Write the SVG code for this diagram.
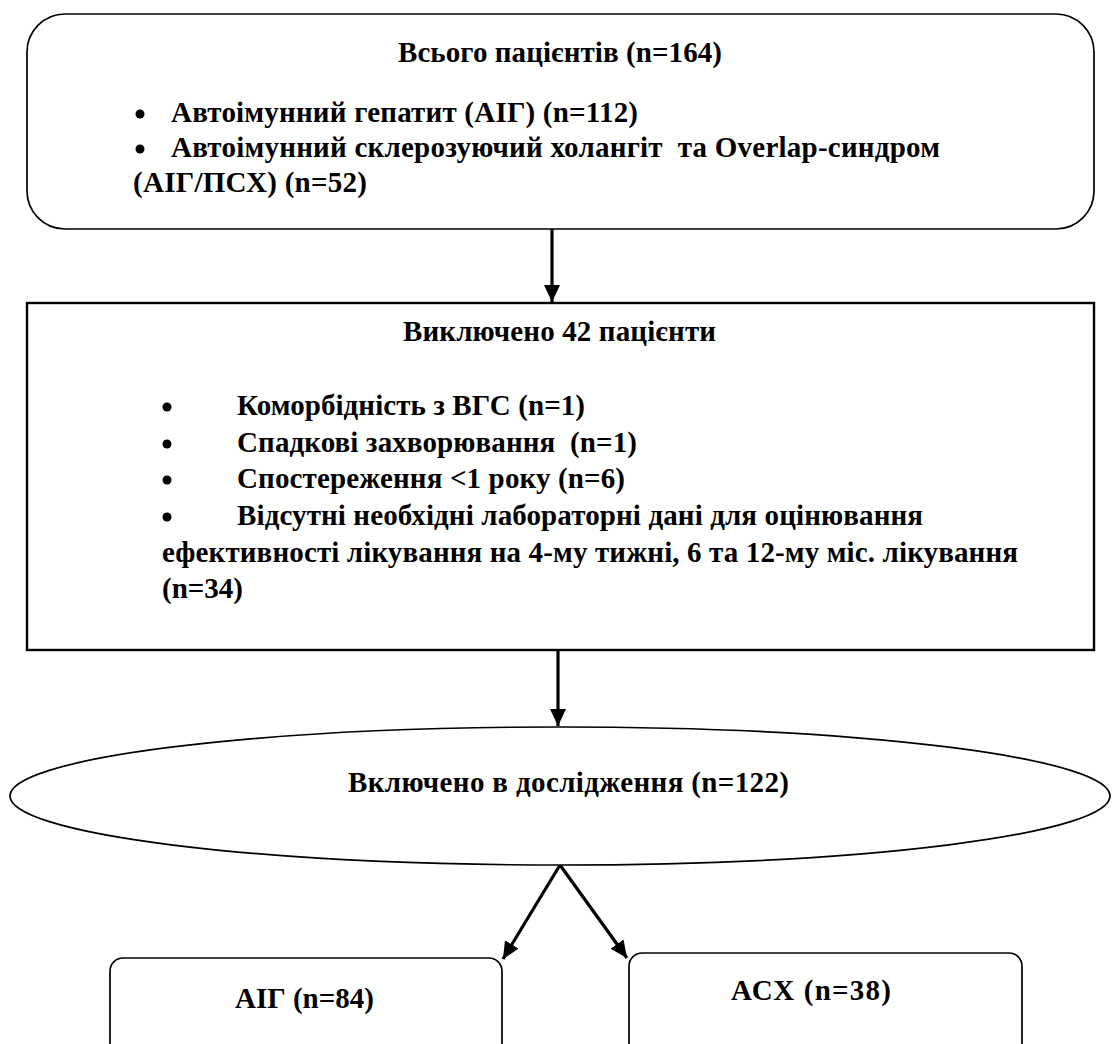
<svg xmlns="http://www.w3.org/2000/svg" width="1115" height="1044" viewBox="0 0 1115 1044">
<defs>
<style>
.t{font-family:"Liberation Serif","Times New Roman",serif;font-weight:bold;font-size:29px;fill:#000;white-space:pre}
.dot{fill:#000}
.box{fill:#fff;stroke:#000;stroke-width:1.7}
.box2{fill:#fff;stroke:#000;stroke-width:2.4}
.conn{stroke:#000;stroke-width:3.2;fill:none}
</style>
<marker id="ah" markerUnits="userSpaceOnUse" markerWidth="17" markerHeight="16" refX="17" refY="8" orient="auto">
<path d="M0,0 L17,8 L0,16 z" fill="#000"/>
</marker>
</defs>
<rect width="1115" height="1044" fill="#fff"/>
<g id="connectors">
<line class="conn" x1="552" y1="229" x2="552" y2="302" marker-end="url(#ah)"/>
<line class="conn" x1="558" y1="650" x2="558" y2="726" marker-end="url(#ah)"/>
<line class="conn" x1="560" y1="865" x2="503" y2="959" marker-end="url(#ah)"/>
<line class="conn" x1="560" y1="865" x2="627" y2="958" marker-end="url(#ah)"/>
</g>
<g id="total">
<rect class="box" x="27" y="14" width="1067" height="215" rx="38" ry="38"/>
<text class="t" x="398" y="62" textLength="324" lengthAdjust="spacing">Всього пацієнтів (n=164)</text>
<circle class="dot" cx="140" cy="114" r="4.5"/>
<text class="t" x="171" y="122" textLength="467" lengthAdjust="spacing">Автоімунний гепатит (АІГ) (n=112)</text>
<circle class="dot" cx="140" cy="149" r="4.5"/>
<text class="t" x="171" y="157" textLength="769" lengthAdjust="spacing">Автоімунний склерозуючий холангіт  та Overlap-синдром</text>
<text class="t" x="133" y="192" textLength="234" lengthAdjust="spacing">(АІГ/ПСХ) (n=52)</text>
</g>
<g id="excluded">
<rect class="box2" x="27" y="303" width="1067" height="347"/>
<text class="t" x="403" y="341" textLength="313" lengthAdjust="spacing">Виключено 42 пацієнти</text>
<circle class="dot" cx="167" cy="407" r="4.5"/>
<text class="t" x="237" y="415" textLength="348" lengthAdjust="spacing">Коморбідність з ВГС (n=1)</text>
<circle class="dot" cx="167" cy="444" r="4.5"/>
<text class="t" x="237" y="452" textLength="400" lengthAdjust="spacing">Спадкові захворювання  (n=1)</text>
<circle class="dot" cx="167" cy="480" r="4.5"/>
<text class="t" x="237" y="488" textLength="388" lengthAdjust="spacing">Спостереження &lt;1 року (n=6)</text>
<circle class="dot" cx="167" cy="517" r="4.5"/>
<text class="t" x="237" y="525" textLength="686" lengthAdjust="spacing">Відсутні необхідні лабораторні дані для оцінювання</text>
<text class="t" x="162" y="562" textLength="856" lengthAdjust="spacing">ефективності лікування на 4-му тижні, 6 та 12-му міс. лікування</text>
<text class="t" x="162" y="598">(n=34)</text>
</g>
<g id="included">
<ellipse class="box" cx="560" cy="796" rx="550" ry="69"/>
<text class="t" x="348" y="792" textLength="441" lengthAdjust="spacing">Включено в дослідження (n=122)</text>
</g>
<g id="aig">
<rect class="box" x="110" y="958" width="392" height="120" rx="13" ry="13"/>
<text class="t" x="235" y="1008">АІГ (n=84)</text>
</g>
<g id="asx">
<rect class="box" x="629" y="953" width="393" height="125" rx="13" ry="13"/>
<text class="t" x="731" y="1000" textLength="160" lengthAdjust="spacing">АСХ (n=38)</text>
</g>
</svg>
